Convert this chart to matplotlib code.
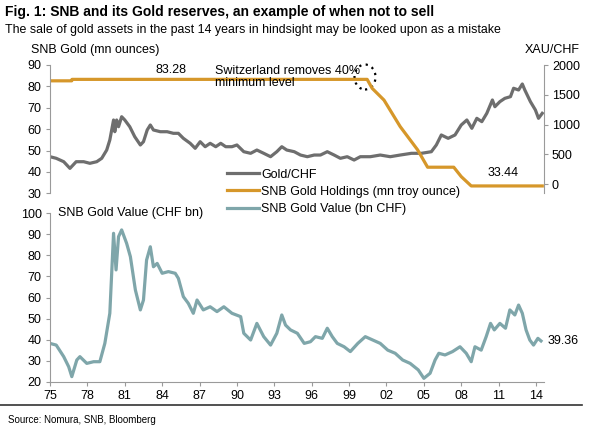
import matplotlib
matplotlib.use("Agg")
import matplotlib.pyplot as plt
from matplotlib.lines import Line2D
from matplotlib.patches import Ellipse

plt.rcParams['font.family'] = ['Liberation Sans', 'DejaVu Sans']

# SNB gold holdings (mn troy ounces)
hold_years = [1975.0, 1976.75, 1976.76, 2000.45, 2000.85, 2001.8, 2003.1,
              2004.5, 2005.3, 2007.4, 2008.0, 2008.8, 2014.5]
hold_vals = [82.6, 82.6, 83.28, 83.28, 79.1, 73.6, 61.2,
             50.3, 42.2, 42.2, 37.8, 33.44, 33.44]

# Gold price in CHF per ounce
xau_years = [1975.0, 1975.5, 1976.1, 1976.6, 1977.1, 1977.7, 1978.2, 1978.75,
             1979.15, 1979.55, 1979.8, 1980.1, 1980.2, 1980.35, 1980.5, 1980.75,
             1981.0, 1981.4, 1981.8, 1982.25, 1982.5, 1982.8, 1983.05, 1983.3,
             1983.85, 1984.4, 1984.9, 1985.3, 1985.7, 1986.25, 1986.65, 1987.05,
             1987.45, 1987.85, 1988.3, 1988.7, 1989.1, 1989.6, 1990.0, 1990.55,
             1991.1, 1991.6, 1992.15, 1992.7, 1993.2, 1993.6, 1994.0, 1994.6,
             1995.1, 1995.65, 1996.2, 1996.7, 1997.25, 1997.8, 1998.3, 1998.85,
             1999.4, 1999.9, 2000.7, 2001.5, 2002.3, 2003.1, 2004.0, 2004.8,
             2005.6, 2006.0, 2006.4, 2006.95, 2007.5, 2008.0, 2008.45, 2008.85,
             2009.25, 2009.65, 2010.05, 2010.5, 2010.7, 2011.1, 2011.5, 2011.95,
             2012.2, 2012.6, 2012.9, 2013.1, 2013.55, 2013.95, 2014.2, 2014.5]
xau_vals = [459, 432, 375, 263, 375, 375, 348, 375,
            432, 571, 740, 1076, 879, 1076, 963, 1131,
            1076, 963, 795, 656, 711, 908, 992, 908,
            879, 879, 852, 852, 768, 684, 600, 711,
            627, 684, 627, 684, 627, 627, 656, 543,
            516, 571, 516, 459, 543, 627, 571, 543,
            487, 459, 487, 487, 543, 487, 432, 459,
            403, 459, 459, 487, 459, 487, 516, 516,
            543, 656, 824, 768, 824, 992, 1076, 936,
            1104, 1048, 1188, 1412, 1299, 1384, 1440, 1468,
            1609, 1580, 1681, 1580, 1384, 1244, 1104, 1188]

# SNB gold value (CHF bn)
val_years = [1975.0, 1975.5, 1976.1, 1976.5, 1976.75, 1977.15, 1977.4, 1977.95,
             1978.5, 1979.0, 1979.4, 1979.8, 1980.1, 1980.3, 1980.5, 1980.75,
             1981.15, 1981.45, 1981.85, 1982.25, 1982.5, 1982.75, 1983.05, 1983.3,
             1983.6, 1984.0, 1984.5, 1985.05, 1985.3, 1985.7, 1986.1, 1986.5,
             1986.8, 1987.3, 1987.85, 1988.4, 1988.95, 1989.6, 1990.3, 1990.55,
             1991.1, 1991.6, 1992.15, 1992.7, 1993.2, 1993.6, 1993.9, 1994.3,
             1994.85, 1995.4, 1995.9, 1996.3, 1996.85, 1997.25, 1997.65, 1998.05,
             1998.6, 1999.1, 1999.7, 2000.3, 2000.9, 2001.5, 2002.1, 2002.7,
             2003.3, 2003.9, 2004.55, 2005.0, 2005.5, 2005.9, 2006.2, 2006.7,
             2007.3, 2007.9, 2008.4, 2008.8, 2009.1, 2009.6, 2010.0, 2010.35,
             2010.65, 2011.1, 2011.55, 2011.9, 2012.3, 2012.6, 2012.9, 2013.2,
             2013.5, 2013.8, 2014.15, 2014.4]
val_vals = [38.2, 37.4, 31.9, 27.1, 22.4, 30.3, 31.9, 28.7,
            29.5, 29.5, 38.2, 52.5, 90.5, 73.1, 88.9, 92.1,
            85.7, 79.4, 63.6, 54.1, 58.8, 77.8, 84.1, 74.6,
            76.2, 71.5, 72.3, 71.5, 69.1, 60.4, 57.2, 52.5,
            58.8, 54.1, 55.6, 53.3, 55.6, 52.5, 50.9, 43.0,
            39.8, 47.7, 41.4, 37.4, 43.0, 51.7, 46.9, 44.6,
            43.0, 38.2, 39.0, 41.4, 40.6, 45.4, 41.4, 38.2,
            36.6, 34.3, 38.2, 41.4, 39.8, 38.2, 35.0, 33.5,
            30.3, 28.7, 25.6, 21.6, 24.0, 30.3, 33.5, 32.7,
            34.3, 36.6, 33.5, 29.5, 36.6, 35.0, 41.4, 47.7,
            44.6, 47.7, 45.4, 54.1, 51.7, 56.4, 52.5, 44.6,
            39.8, 37.4, 40.6, 39.36]

year_ticks = list(range(1975, 2015, 3))
year_labels = ['75', '78', '81', '84', '87', '90', '93', '96', '99',
               '02', '05', '08', '11', '14']

GREY = '#6e6e6e'
ORANGE = '#d6972a'
TEAL = '#7fa6aa'
SPINE = '#9a9a9a'

W, H = 598, 436
fig = plt.figure(figsize=(W / 100, H / 100), dpi=100)


def px(x, y):
    return x / W, 1 - y / H


# top panel
ax = fig.add_axes([50 / W, 1 - 193.3 / H, 493.5 / W, 128.3 / H])
ax2 = ax.twinx()
ax.set_zorder(ax2.get_zorder() + 1)
ax.patch.set_visible(False)

l_gold, = ax2.plot(xau_years, xau_vals, color=GREY, lw=2.3, label='Gold/CHF')
l_hold, = ax.plot(hold_years, hold_vals, color=ORANGE, lw=2.3,
                  label='SNB Gold Holdings (mn troy ounce)')

ax.set_xlim(1975, 2014.6)
ax.set_ylim(30, 90)
ax2.set_ylim(-156, 2000)
ax.set_yticks(range(30, 91, 10))
ax2.set_yticks(range(0, 2001, 500))
ax.set_xticks([])
for a in (ax, ax2):
    for s in ('top', 'bottom'):
        a.spines[s].set_visible(False)
    a.tick_params(axis='y', labelsize=9, length=3, color=SPINE, pad=3)
ax.spines['right'].set_visible(False)
ax.spines['left'].set_color(SPINE)
ax2.spines['left'].set_visible(False)
ax2.spines['right'].set_color(SPINE)

fig.text(*px(171, 70), '83.28', fontsize=9, ha='center', va='center')
fig.text(*px(503, 173), '33.44', fontsize=9, ha='center', va='center')
fig.text(*px(215, 70.5), 'Switzerland removes 40%', fontsize=9, va='center')
fig.text(*px(215, 83.5), 'minimum level', fontsize=9, va='center')
ell = Ellipse(px(365, 77), 21 / W, 25 / H, transform=fig.transFigure,
              fill=False, ls=(0, (1, 2)), lw=1.6, color='black')
fig.add_artist(ell)

# bottom panel
bx = fig.add_axes([50 / W, 1 - 381.7 / H, 493.5 / W, 168.4 / H])
l_val, = bx.plot(val_years, val_vals, color=TEAL, lw=2.3,
                 label='SNB Gold Value (bn CHF)')
bx.set_xlim(1975, 2014.6)
bx.set_ylim(20, 100)
bx.set_yticks(range(20, 101, 10))
bx.set_xticks(year_ticks)
bx.set_xticklabels(year_labels)
for s in ('top', 'right'):
    bx.spines[s].set_visible(False)
for s in ('left', 'bottom'):
    bx.spines[s].set_color(SPINE)
bx.tick_params(labelsize=9, length=3, color=SPINE, pad=3)
fig.text(*px(548, 341), '39.36', fontsize=9, va='center')

# legend
fig.legend(handles=[l_gold, l_hold, l_val], loc='upper left',
           bbox_to_anchor=px(226.5, 168.5), frameon=False, fontsize=9,
           borderpad=0, borderaxespad=0, handlelength=2.6,
           handletextpad=0.15, labelspacing=0.42)

# titles and labels
fig.text(*px(5, 12), 'Fig. 1: SNB and its Gold reserves, an example of when not to sell',
         fontsize=10, fontweight='bold', va='center')
fig.text(*px(5, 30), 'The sale of gold assets in the past 14 years in hindsight may be looked upon as a mistake',
         fontsize=8.9, va='center')
fig.text(*px(31, 50), 'SNB Gold (mn ounces)', fontsize=9, va='center')
fig.text(*px(580, 50), 'XAU/CHF', fontsize=9, va='center', ha='right')
fig.text(*px(58, 213), 'SNB Gold Value (CHF bn)', fontsize=9, va='center')

fig.add_artist(Line2D([0, 582 / W], [1 - 405 / H] * 2, color='#333333', lw=1.2,
                      transform=fig.transFigure))
fig.text(*px(8, 420), 'Source: Nomura, SNB, Bloomberg', fontsize=7, va='center')

fig.savefig('out.png', dpi=100)
